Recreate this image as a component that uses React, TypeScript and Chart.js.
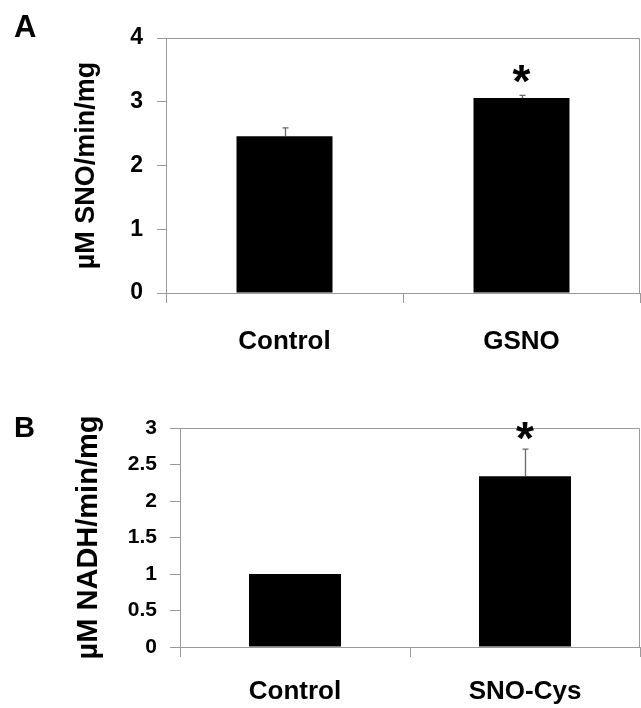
import React, { useEffect, useRef } from "react";
import { Chart, registerables } from "chart.js";

Chart.register(...registerables);

const FONT = "'Liberation Sans', Arial, Helvetica, sans-serif";
const AXIS_GREY = "#9a9a9a";

// Panel A data
const panelACategories = ["Control", "GSNO"];
const panelAValues = [2.46, 3.06];
const panelAErrors = [0.13, 0.04];
const panelAStars = ["", "*"];
const panelAYTicks = [0, 1, 2, 3, 4];
const panelATitle = "µM SNO/min/mg";

// Panel B data
const panelBCategories = ["Control", "SNO-Cys"];
const panelBValues = [1.0, 2.34];
const panelBErrors = [0, 0.37];
const panelBStars = ["", "*"];
const panelBYTicks = [0, 0.5, 1, 1.5, 2, 2.5, 3];
const panelBTitle = "µM NADH/min/mg";

type PanelProps = {
  categories: string[];
  values: number[];
  errors: number[];
  stars: string[];
  yTicks: number[];
  yTitle: string;
  top: number;
  height: number;
  padTop: number;
  axisWidth: number;
  xAxisHeight: number;
  yTickLen: number;
  yLabelPad: number;
  yLabelSize: number;
  xLabelPad: number;
  xLabelSize: number;
  titleSize: number;
  titlePad: number;
  barPct: number;
  starGap: number;
};

function Panel(p: PanelProps) {
  const ref = useRef<HTMLCanvasElement>(null);
  useEffect(() => {
    if (!ref.current) return;
    const extras = {
      id: "extras",
      afterDatasetsDraw(chart: any) {
        const ctx = chart.ctx;
        const area = chart.chartArea;
        const y = chart.scales.y;
        ctx.save();
        // frame top and right
        ctx.strokeStyle = AXIS_GREY;
        ctx.lineWidth = 1;
        ctx.beginPath();
        const t = Math.round(area.top) + 0.5;
        const r = Math.round(area.right) - 0.5;
        ctx.moveTo(area.left, t);
        ctx.lineTo(r, t);
        ctx.lineTo(r, area.bottom);
        ctx.stroke();
        // error bars + stars
        const meta = chart.getDatasetMeta(0);
        meta.data.forEach((bar: any, i: number) => {
          const v = p.values[i];
          const e = p.errors[i];
          const x = Math.round(bar.x) + 0.5;
          const y0 = y.getPixelForValue(v);
          const y1 = y.getPixelForValue(v + e);
          if (e > 0) {
            ctx.strokeStyle = "#6a6a6a";
            ctx.lineWidth = 1.3;
            ctx.beginPath();
            ctx.moveTo(x, y0);
            ctx.lineTo(x, y1);
            ctx.moveTo(x - 3, y1);
            ctx.lineTo(x + 3, y1);
            ctx.stroke();
          }
          if (p.stars[i]) {
            const fs = 46;
            ctx.fillStyle = "#000";
            ctx.font = `bold ${fs}px ${FONT}`;
            ctx.textAlign = "center";
            ctx.textBaseline = "alphabetic";
            ctx.fillText(p.stars[i], bar.x, y1 - p.starGap + 0.57 * fs);
          }
        });
        ctx.restore();
      },
    };
    const chart = new Chart(ref.current, {
      type: "bar",
      data: {
        labels: p.categories,
        datasets: [
          {
            data: p.values,
            backgroundColor: "#000000",
            borderWidth: 0,
            categoryPercentage: 1,
            barPercentage: p.barPct,
          },
        ],
      },
      options: {
        responsive: false,
        animation: false,
        devicePixelRatio: 1,
        layout: { padding: { top: p.padTop, left: 0, right: 1, bottom: 0 } },
        plugins: {
          legend: { display: false },
          tooltip: { enabled: false },
        },
        scales: {
          x: {
            offset: true,
            grid: {
              offset: true,
              drawOnChartArea: false,
              drawTicks: true,
              tickLength: 10,
              color: AXIS_GREY,
            },
            border: { display: true, color: AXIS_GREY, width: 1 },
            ticks: {
              color: "#000",
              padding: p.xLabelPad,
              font: { family: FONT, size: p.xLabelSize, weight: "bold" },
              maxRotation: 0,
            },
            afterFit(scale: any) {
              scale.height = p.xAxisHeight;
            },
          },
          y: {
            min: p.yTicks[0],
            max: p.yTicks[p.yTicks.length - 1],
            afterBuildTicks(scale: any) {
              scale.ticks = p.yTicks.map((v) => ({ value: v }));
            },
            grid: {
              drawOnChartArea: false,
              drawTicks: true,
              tickLength: p.yTickLen,
              color: AXIS_GREY,
            },
            border: { display: true, color: AXIS_GREY, width: 1 },
            ticks: {
              color: "#000",
              padding: p.yLabelPad,
              font: { family: FONT, size: p.yLabelSize, weight: "bold" },
              callback: (value: any) => String(value),
            },
            title: {
              display: true,
              text: p.yTitle,
              color: "#000",
              font: { family: FONT, size: p.titleSize, weight: "bold", lineHeight: 1.2 },
              padding: { top: p.titlePad, bottom: 0 },
            },
            afterFit(scale: any) {
              scale.width = p.axisWidth;
            },
          },
        },
      },
      plugins: [extras],
    } as any);
    return () => chart.destroy();
  }, []);
  return (
    <canvas
      ref={ref}
      width={641}
      height={p.height}
      style={{ position: "absolute", left: 0, top: p.top, width: 641, height: p.height, display: "block" }}
    />
  );
}

export default function App() {
  return (
    <div
      style={{
        position: "absolute",
        left: 0,
        top: 0,
        width: 641,
        height: 708,
        background: "#fff",
        overflow: "hidden",
        fontFamily: FONT,
      }}
    >
      <Panel
        categories={panelACategories}
        values={panelAValues}
        errors={panelAErrors}
        stars={panelAStars}
        yTicks={panelAYTicks}
        yTitle={panelATitle}
        top={0}
        height={365}
        padTop={38}
        axisWidth={166}
        xAxisHeight={72}
        yTickLen={9}
        yLabelPad={14}
        yLabelSize={23}
        xLabelPad={23}
        xLabelSize={26}
        titleSize={27}
        titlePad={70}
        barPct={0.405}
        starGap={25}
      />
      <Panel
        categories={panelBCategories}
        values={panelBValues}
        errors={panelBErrors}
        stars={panelBStars}
        yTicks={panelBYTicks}
        yTitle={panelBTitle}
        top={365}
        height={343}
        padTop={63}
        axisWidth={180}
        xAxisHeight={61}
        yTickLen={10}
        yLabelPad={13}
        yLabelSize={21}
        xLabelPad={19}
        xLabelSize={26}
        titleSize={29}
        titlePad={72}
        barPct={0.4}
        starGap={21}
      />
      <div style={{ position: "absolute", left: 14, top: 9, fontSize: 31, fontWeight: "bold", lineHeight: "normal" }}>A</div>
      <div style={{ position: "absolute", left: 14, top: 411, fontSize: 29, fontWeight: "bold", lineHeight: "normal" }}>B</div>
    </div>
  );
}
